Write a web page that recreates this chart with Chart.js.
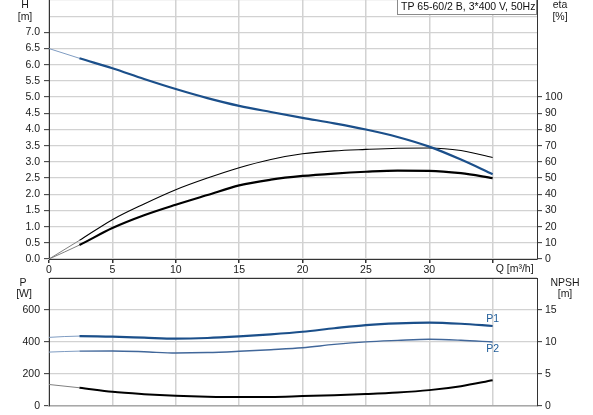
<!DOCTYPE html>
<html><head><meta charset="utf-8">
<script src="https://cdn.jsdelivr.net/npm/chart.js@4/dist/chart.umd.min.js"></script>
<style>
html,body{margin:0;padding:0;background:#fff;}
#wrap{position:relative;width:593px;height:415px;overflow:hidden;background:#fff}
canvas{position:absolute;left:0}
#c1{top:0}
#c2{top:276px}
</style></head><body>
<div id="wrap"><canvas id="c1" width="593" height="276"></canvas><canvas id="c2" width="593" height="139"></canvas></div>
<script>
// ---- data ----
const flow     = [0, 2.4, 5, 7.5, 10, 12.5, 15, 17.5, 20, 22.5, 25, 27.5, 30, 32.5, 35];
const head     = [6.5, 6.2, 5.89, 5.56, 5.25, 4.97, 4.73, 4.54, 4.36, 4.19, 4.0, 3.77, 3.47, 3.07, 2.62];
const etaPump  = [0, 11.5, 24.3, 34, 42.8, 50, 56.4, 61.5, 65, 66.8, 67.7, 68.4, 68.6, 67, 62.7];
const etaTotal = [0, 8.6, 19.1, 27, 33.5, 39.5, 45.5, 49, 51.3, 52.8, 53.9, 54.6, 54.5, 53, 50];
const powerP1  = [429, 437, 433, 427, 421, 425, 435, 448, 464, 486, 506, 517, 521, 514, 500];
const powerP2  = [337, 343, 344, 339, 331, 334, 342, 352, 364, 385, 401, 410, 417, 411, 400];
const npsh     = [3.36, 2.85, 2.21, 1.85, 1.6, 1.45, 1.39, 1.42, 1.55, 1.68, 1.86, 2.1, 2.48, 3.1, 4.02];

const qTicks    = [0, 5, 10, 15, 20, 25, 30, 35];
const hTicks    = [0, 0.5, 1, 1.5, 2, 2.5, 3, 3.5, 4, 4.5, 5, 5.5, 6, 6.5, 7, 7.5, 8];
const etaTicks  = [0, 10, 20, 30, 40, 50, 60, 70, 80, 90, 100, 110, 120, 130, 140, 150, 160];
const pTicks    = [0, 200, 400, 600, 800];
const npshTicks = [0, 5, 10, 15, 20];
const qLabelMax = 30, hLabelMax = 7, etaLabelMax = 100, pLabelMax = 600, npshLabelMax = 15;
const qMax = 38.5;
const titleText = 'TP 65-60/2 B, 3*400 V, 50Hz';
const qTitle = 'Q [m\u00B3/h]';

// ---- style ----
const FONT = "'Liberation Sans', Arial, sans-serif";
const FSIZE = 10.5;
Chart.defaults.font.family = FONT;
Chart.defaults.font.size = FSIZE;
Chart.defaults.color = '#1a1a1a';
const BLUE = '#1b4f8a', BLUE2 = '#41679a', LBLUE = '#7f9cc2', GREY = '#808080';
const GRID = '#d2d2d2', AXIS = '#333333';

function pts(ys){ return flow.map((x,i)=>({x:x, y:ys[i]})); }
function ds(ys, axis, color, width, light){
  return {data: pts(ys), yAxisID: axis, borderColor: color, borderWidth: width,
    pointRadius: 0, cubicInterpolationMode: 'monotone', fill: false,
    segment: {
      borderColor: c => c.p0DataIndex === 0 ? light : color,
      borderWidth: c => c.p0DataIndex === 0 ? 1 : width
    }};
}
function setTicks(arr){ return s => { s.ticks = arr.map(v => ({value: v})); }; }
function fitW(w){ return s => { s.width = w; s.paddingTop = 0; s.paddingBottom = 0; }; }
function fitH(h){ return s => { s.height = h; s.paddingLeft = 0; s.paddingRight = 0; }; }
function tickCol(maxV){ return c => (c.tick && c.tick.value <= maxV + 1e-9) ? AXIS : 'rgba(0,0,0,0)'; }

function yAxis(pos, min, max, arr, maxLab, fmt, grid){
  return {
    type: 'linear', position: pos, min: min, max: max,
    afterBuildTicks: setTicks(arr),
    afterFit: fitW(pos === 'left' ? 49 : 56),
    border: {display: true, color: AXIS, width: 1},
    grid: {display: true, drawOnChartArea: grid, color: GRID, lineWidth: 1.3,
           drawTicks: true, tickLength: 5, tickColor: tickCol(maxLab), tickWidth: 1},
    ticks: {autoSkip: false, padding: pos === 'left' ? 4 : 3, color: '#1a1a1a',
            callback: v => v <= maxLab + 1e-9 ? fmt(v) : ''}
  };
}

// top chart
new Chart(document.getElementById('c1'), {
  type: 'line',
  data: {datasets: [
    ds(head, 'yH', BLUE, 2.2, LBLUE),
    ds(etaPump, 'yEta', '#000', 1.1, GREY),
    ds(etaTotal, 'yEta', '#000', 2.2, GREY)
  ]},
  options: {
    responsive: false, animation: false, devicePixelRatio: 1,
    layout: {padding: 0},
    plugins: {legend: {display: false}, tooltip: {enabled: false}},
    scales: {
      x: {type: 'linear', position: 'bottom', min: 0, max: qMax,
          afterBuildTicks: setTicks(qTicks), afterFit: fitH(17),
          border: {display: true, color: AXIS, width: 1},
          grid: {color: GRID, lineWidth: 1.5, drawTicks: true, tickLength: 4, tickColor: AXIS},
          ticks: {autoSkip: false, maxRotation: 0, padding: 1, color: '#1a1a1a',
                  callback: v => v <= qLabelMax ? String(v) : ''}},
      yH: yAxis('left', 0, 8, hTicks, hLabelMax, v => v.toFixed(1), true),
      yEta: yAxis('right', 0, 160, etaTicks, etaLabelMax, v => String(v), false)
    }
  },
  plugins: [{
    id: 'texts1',
    afterDraw(chart){
      const ctx = chart.ctx, a = chart.chartArea, xs = chart.scales.x;
      ctx.save();
      ctx.font = FSIZE + 'px ' + FONT;
      ctx.fillStyle = '#1a1a1a';
      ctx.textAlign = 'center'; ctx.textBaseline = 'middle';
      ctx.fillText('H', 25, 5.5); ctx.fillText('[m]', 25, 17);
      ctx.fillText('eta', 560, 5.5); ctx.fillText('[%]', 560, 17);
      ctx.textAlign = 'left';
      ctx.fillText(qTitle, xs.getPixelForValue(35) + 3, 269);
      // title box
      const bw = 140, bh = 15, bx = a.right - bw;
      ctx.fillStyle = '#fff';
      ctx.fillRect(bx, 0, bw, bh);
      ctx.strokeStyle = '#8a8a8a'; ctx.lineWidth = 1;
      ctx.strokeRect(bx + 0.5, -0.5, bw - 1, bh);
      ctx.fillStyle = '#111';
      ctx.fillText(titleText, bx + 4, 7.5);
      ctx.restore();
    }
  }]
});

// bottom chart
new Chart(document.getElementById('c2'), {
  type: 'line',
  data: {datasets: [
    ds(powerP1, 'yP', BLUE, 2.2, LBLUE),
    ds(powerP2, 'yP', BLUE2, 1.4, LBLUE),
    ds(npsh, 'yN', '#000', 2, GREY)
  ]},
  options: {
    responsive: false, animation: false, devicePixelRatio: 1,
    layout: {padding: {top: 2, bottom: 0, left: 0, right: 0}},
    plugins: {legend: {display: false}, tooltip: {enabled: false}},
    scales: {
      x: {type: 'linear', position: 'bottom', min: 0, max: qMax,
          afterBuildTicks: setTicks(qTicks), afterFit: fitH(9),
          border: {display: true, color: '#a8a8a8', width: 1.5},
          grid: {color: GRID, lineWidth: 1.5, drawTicks: false},
          ticks: {display: false}},
      yP: yAxis('left', 0, 800, pTicks, pLabelMax, v => String(v), true),
      yN: yAxis('right', 0, 20, npshTicks, npshLabelMax, v => String(v), false)
    }
  },
  plugins: [{
    id: 'texts2',
    afterDraw(chart){
      const ctx = chart.ctx, a = chart.chartArea, xs = chart.scales.x, yp = chart.scales.yP;
      ctx.save();
      ctx.strokeStyle = AXIS; ctx.lineWidth = 1;
      ctx.beginPath(); ctx.moveTo(a.left, a.top + 0.5); ctx.lineTo(a.right, a.top + 0.5); ctx.stroke();
      ctx.font = FSIZE + 'px ' + FONT;
      ctx.fillStyle = '#1a1a1a';
      ctx.textAlign = 'center'; ctx.textBaseline = 'middle';
      ctx.fillText('P', 23, 7); ctx.fillText('[W]', 24, 18.5);
      ctx.fillText('NPSH', 565, 7); ctx.fillText('[m]', 565, 18.5);
      ctx.fillStyle = '#1f5c99';
      const xe = xs.getPixelForValue(35);
      ctx.fillText('P1', xe, yp.getPixelForValue(powerP1[powerP1.length - 1]) - 7);
      ctx.fillText('P2', xe, yp.getPixelForValue(powerP2[powerP2.length - 1]) + 7);
      ctx.restore();
    }
  }]
});
</script>
</body></html>
